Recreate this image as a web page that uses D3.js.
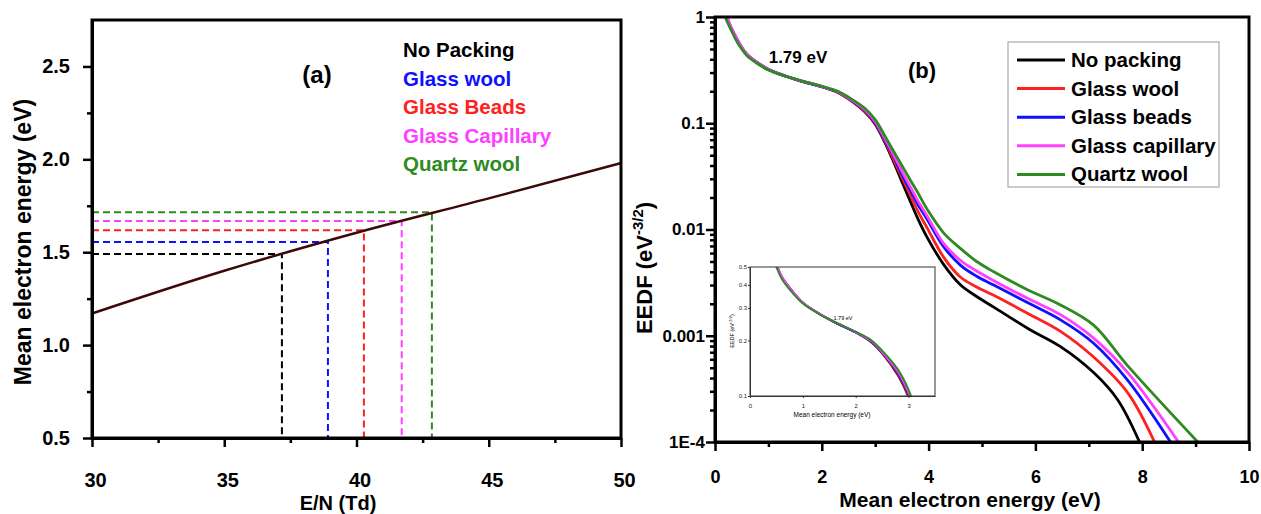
<!DOCTYPE html>
<html>
<head>
<meta charset="utf-8">
<script src="https://cdnjs.cloudflare.com/ajax/libs/d3/7.8.5/d3.min.js"></script>
<style>
body { margin: 0; background: #fff; }
svg { display: block; }
text { font-family: 'Liberation Sans', Arial, sans-serif; font-weight: bold; }
</style>
</head>
<body>
<svg id="chart"></svg>
<script>

// ---- panel (a) data ----
var fieldValues = [30, 35, 40, 45, 50];              // E/N (Td)
var meanEnergy = [1.17, 1.40, 1.605, 1.79, 1.98];    // eV
var packingA = ["No Packing", "Glass wool", "Glass Beads", "Glass Capillary", "Quartz wool"];
var readField = [37.18, 38.92, 40.28, 41.71, 42.85];
var readEnergy = [1.49, 1.555, 1.618, 1.668, 1.715];
var xTicksA = [30, 35, 40, 45, 50];
var yTicksA = [0.5, 1.0, 1.5, 2.0, 2.5];

// ---- panel (b) data: [energy (eV), EEDF] ----
var packingB = ["No packing", "Glass wool", "Glass beads", "Glass capillary", "Quartz wool"];
var eedfNoPacking = [[0.12,1.30],[0.20,1.0],[0.30,0.78],[0.40,0.62],[0.50,0.51],[0.60,0.44],[0.80,0.37],[1.0,0.32],[1.3,0.28],[1.6,0.251],[2.0,0.221],[2.3,0.195],[2.5,0.170],[2.8,0.129],[3.0,0.098],[3.2,0.063],[3.35,0.0427],[3.5,0.0282],[3.67,0.0178],[3.8,0.0126],[3.98,0.0083],[4.28,0.0047],[4.6,0.0030],[4.9,0.00234],[5.22,0.00186],[5.86,0.00117],[6.47,0.00079],[7.09,0.00045],[7.54,0.00025],[7.95,0.0001]];
var eedfGlassWool = [[0.13,1.30],[0.21,1.0],[0.30,0.79],[0.40,0.63],[0.50,0.515],[0.60,0.442],[0.80,0.37],[1.0,0.32],[1.3,0.28],[1.6,0.251],[2.0,0.221],[2.3,0.196],[2.5,0.171],[2.8,0.131],[3.0,0.100],[3.2,0.065],[3.35,0.045],[3.5,0.031],[3.67,0.0205],[3.8,0.0148],[3.98,0.0102],[4.28,0.0055],[4.6,0.00355],[4.9,0.00288],[5.22,0.0024],[5.86,0.00162],[6.47,0.0011],[7.09,0.00063],[7.73,0.00029],[8.23,0.0001]];
var eedfGlassBeads = [[0.14,1.30],[0.22,1.0],[0.30,0.795],[0.40,0.635],[0.50,0.518],[0.60,0.444],[0.80,0.37],[1.0,0.32],[1.3,0.28],[1.6,0.251],[2.0,0.221],[2.3,0.197],[2.5,0.172],[2.8,0.133],[3.0,0.102],[3.2,0.067],[3.35,0.0484],[3.5,0.0331],[3.67,0.0229],[3.8,0.0172],[3.98,0.0123],[4.28,0.0069],[4.6,0.0046],[4.9,0.00363],[5.22,0.0030],[5.86,0.00204],[6.47,0.00141],[7.09,0.00085],[7.73,0.00038],[8.53,0.0001]];
var eedfGlassCapillary = [[0.15,1.30],[0.23,1.0],[0.30,0.80],[0.40,0.64],[0.50,0.52],[0.60,0.446],[0.80,0.371],[1.0,0.321],[1.3,0.28],[1.6,0.252],[2.0,0.222],[2.3,0.198],[2.5,0.173],[2.8,0.135],[3.0,0.104],[3.2,0.069],[3.35,0.050],[3.5,0.0355],[3.67,0.0245],[3.8,0.0186],[3.98,0.0132],[4.28,0.0074],[4.6,0.0051],[4.9,0.00407],[5.22,0.0033],[5.86,0.00224],[6.47,0.00158],[7.09,0.00095],[7.73,0.00045],[8.68,0.0001]];
var eedfQuartzWool = [[0.11,1.30],[0.19,1.0],[0.30,0.76],[0.40,0.60],[0.50,0.50],[0.60,0.432],[0.80,0.363],[1.0,0.317],[1.3,0.279],[1.6,0.252],[2.0,0.223],[2.3,0.200],[2.5,0.176],[2.8,0.139],[3.0,0.108],[3.2,0.073],[3.35,0.054],[3.5,0.040],[3.67,0.0285],[3.8,0.0221],[3.98,0.0153],[4.28,0.0093],[4.6,0.0066],[4.9,0.0050],[5.22,0.0040],[5.86,0.0027],[6.47,0.00195],[7.09,0.00126],[7.73,0.00052],[9.04,0.0001]];
var xTicksB = [0, 2, 4, 6, 8, 10];
var yTicksB = [1e-4, 1e-3, 1e-2, 1e-1, 1];
var yTickLabelsB = ["1E-4", "0.001", "0.01", "0.1", "1"];
var xTicksInset = [0, 1, 2, 3];
var yTicksInset = [0.1, 0.2, 0.3, 0.4, 0.5];

var colorsA = ["#000000", "#1010ff", "#ff2020", "#ff40ff", "#2e8b22"];
var colorsB = ["#000000", "#ff2020", "#1010ff", "#ff40ff", "#2e8b22"];

var width = 1261, height = 514;
var svg = d3.select("#chart").attr("width", width).attr("height", height);

// common axis styling
function styleAxis(g, fontSize) {
	g.attr("font-family", null).attr("font-size", null);
	g.selectAll("text").style("font-size", fontSize + "px").attr("fill", "#000");
	g.selectAll(".tick line").attr("stroke", "#000").attr("stroke-width", 2.5);
	g.select(".domain").attr("stroke", "#000").attr("stroke-width", 3);
}
function minorTicks(g, width) {
	g.attr("font-family", null).attr("font-size", null);
	g.select(".domain").remove();
	g.selectAll(".tick line").attr("stroke", "#000").attr("stroke-width", width);
}

//
// Panel (a)
//
var xA = d3.scaleLinear().domain([30, 50]).range([92, 621]);
var yA = d3.scaleLinear().domain([0.5, 2.75]).range([438, 20]);

var gA = svg.append("g");

// dashed read-off lines
readField.forEach(function (f, i) {
	gA.append("path")
		.attr("d", "M" + xA(30) + "," + yA(readEnergy[i]) + "L" + xA(f) + "," + yA(readEnergy[i]) + "L" + xA(f) + "," + yA(0.5))
		.attr("fill", "none")
		.attr("stroke", colorsA[i])
		.attr("stroke-width", 2)
		.attr("stroke-dasharray", "7,4");
});

var lineA = d3.line().x(function (d, i) { return xA(fieldValues[i]); }).y(function (d) { return yA(d); }).curve(d3.curveMonotoneX);
gA.append("path").datum(meanEnergy)
	.attr("d", lineA)
	.attr("fill", "none")
	.attr("stroke", "#3c0808")
	.attr("stroke-width", 2.5);

// minor ticks
gA.append("g").attr("transform", "translate(0,438)")
	.call(d3.axisBottom(xA).tickValues([32.5, 37.5, 42.5, 47.5]).tickSize(5).tickFormat(""))
	.call(minorTicks, 2.5);
gA.append("g").attr("transform", "translate(92,0)")
	.call(d3.axisLeft(yA).tickValues([0.75, 1.25, 1.75, 2.25]).tickSize(5).tickFormat(""))
	.call(minorTicks, 2.5);

// frame
gA.append("rect").attr("x", 92).attr("y", 20).attr("width", 621 - 92).attr("height", 438 - 20)
	.attr("fill", "none").attr("stroke", "#000").attr("stroke-width", 3);

gA.append("g").attr("transform", "translate(0,438)")
	.call(d3.axisBottom(xA).tickValues(xTicksA).tickSize(9).tickSizeOuter(0).tickPadding(26).tickFormat(d3.format("d")))
	.call(styleAxis, 20)
	.selectAll("text").attr("dx", 3);
gA.append("g").attr("transform", "translate(92,0)")
	.call(d3.axisLeft(yA).tickValues(yTicksA).tickSize(9).tickSizeOuter(0).tickPadding(13).tickFormat(d3.format(".1f")))
	.call(styleAxis, 20);

gA.append("text").attr("x", 338).attr("y", 510).attr("text-anchor", "middle")
	.style("font-size", "20px").text("E/N (Td)");
gA.append("text").attr("transform", "translate(31,242) rotate(-90)").attr("text-anchor", "middle")
	.style("font-size", "23px").text("Mean electron energy (eV)");
gA.append("text").attr("x", 317).attr("y", 83).attr("text-anchor", "middle")
	.style("font-size", "24px").text("(a)");

gA.selectAll("text.legend").data(packingA).enter().append("text")
	.attr("class", "legend")
	.attr("x", 403)
	.attr("y", function (d, i) { return 57 + i * 28.5; })
	.attr("fill", function (d, i) { return colorsA[i]; })
	.style("font-size", "20.5px")
	.text(function (d) { return d; });

//
// Panel (b)
//
var xB = d3.scaleLinear().domain([0, 10]).range([715, 1249]);
var yB = d3.scaleLog().domain([1e-4, 1]).range([442, 17]);
var seriesB = [eedfNoPacking, eedfGlassWool, eedfGlassBeads, eedfGlassCapillary, eedfQuartzWool];

var gB = svg.append("g");

svg.append("defs").append("clipPath").attr("id", "clipB")
	.append("rect").attr("x", 715).attr("y", 17).attr("width", 1249 - 715).attr("height", 442 - 17);

var lineB = d3.line().x(function (d) { return xB(d[0]); }).y(function (d) { return yB(d[1]); }).curve(d3.curveCatmullRom.alpha(0.5));
gB.append("g").attr("clip-path", "url(#clipB)")
	.selectAll("path").data(seriesB).enter().append("path")
	.attr("d", lineB)
	.attr("fill", "none")
	.attr("stroke", function (d, i) { return colorsB[i]; })
	.attr("stroke-width", 2.8);

// log minor ticks
var minorB = [];
for (var p = -4; p < 0; p++) {
	for (var m = 2; m <= 9; m++) { minorB.push(m * Math.pow(10, p)); }
}
gB.append("g").attr("transform", "translate(715,0)")
	.call(d3.axisLeft(yB).tickValues(minorB).tickSize(5).tickFormat(""))
	.call(minorTicks, 2.5);
gB.append("g").attr("transform", "translate(0,442)")
	.call(d3.axisBottom(xB).tickValues([1, 3, 5, 7, 9]).tickSize(5).tickFormat(""))
	.call(minorTicks, 2.5);

gB.append("rect").attr("x", 715).attr("y", 17).attr("width", 1249 - 715).attr("height", 442 - 17)
	.attr("fill", "none").attr("stroke", "#000").attr("stroke-width", 3);

gB.append("g").attr("transform", "translate(0,442)")
	.call(d3.axisBottom(xB).tickValues(xTicksB).tickSize(9).tickSizeOuter(0).tickPadding(19).tickFormat(d3.format("d")))
	.call(styleAxis, 18);
gB.append("g").attr("transform", "translate(715,0)")
	.call(d3.axisLeft(yB).tickValues(yTicksB).tickSize(9).tickSizeOuter(0).tickPadding(1)
		.tickFormat(function (d, i) { return yTickLabelsB[i]; }))
	.call(styleAxis, 17);

gB.append("text").attr("x", 970).attr("y", 507).attr("text-anchor", "middle")
	.style("font-size", "21px").text("Mean electron energy (eV)");
var yLabB = gB.append("text").attr("transform", "translate(652,268) rotate(-90)").attr("text-anchor", "middle")
	.style("font-size", "22px");
yLabB.append("tspan").text("EEDF (eV");
yLabB.append("tspan").attr("dy", -9).style("font-size", "15px").text("-3/2");
yLabB.append("tspan").attr("dy", 9).text(")");

gB.append("text").attr("x", 922).attr("y", 78).attr("text-anchor", "middle")
	.style("font-size", "22px").text("(b)");
gB.append("text").attr("x", 798).attr("y", 63).attr("text-anchor", "middle")
	.style("font-size", "17px").text("1.79 eV");

// legend
var legB = gB.append("g");
legB.append("rect").attr("x", 1008).attr("y", 42).attr("width", 211).attr("height", 145)
	.attr("fill", "#fff").attr("stroke", "#999").attr("stroke-width", 1);
packingB.forEach(function (name, i) {
	var cy = 60 + i * 28.6;
	legB.append("line").attr("x1", 1017).attr("x2", 1065).attr("y1", cy).attr("y2", cy)
		.attr("stroke", colorsB[i]).attr("stroke-width", 3);
	legB.append("text").attr("x", 1071).attr("y", cy + 7).style("font-size", "20.5px").text(name);
});

//
// Inset
//
var xI = d3.scaleLinear().domain([0, 3.5]).range([750, 935]);
var yI = d3.scaleLog().domain([0.1, 0.5]).range([396, 267]);
var gI = svg.append("g");

svg.select("defs").append("clipPath").attr("id", "clipI")
	.append("rect").attr("x", 750).attr("y", 267).attr("width", 185).attr("height", 129);

gI.append("rect").attr("x", 750).attr("y", 267).attr("width", 185).attr("height", 129)
	.attr("fill", "#fff");

var lineI = d3.line().x(function (d) { return xI(d[0]); }).y(function (d) { return yI(d[1]); }).curve(d3.curveCatmullRom.alpha(0.5));
gI.append("g").attr("clip-path", "url(#clipI)")
	.selectAll("path").data(seriesB).enter().append("path")
	.attr("d", lineI)
	.attr("fill", "none")
	.attr("stroke", function (d, i) { return colorsB[i]; })
	.attr("stroke-width", 2);

gI.append("rect").attr("x", 750).attr("y", 267).attr("width", 185).attr("height", 129)
	.attr("fill", "none").attr("stroke", "#333").attr("stroke-width", 1);

function styleInset(g) {
	g.attr("font-family", null).attr("font-size", null);
	g.selectAll("text").style("font-size", "6px").style("font-weight", "normal").attr("fill", "#222");
	g.selectAll("line").attr("stroke", "#333");
	g.select(".domain").attr("stroke", "#333");
}
gI.append("g").attr("transform", "translate(0,396)")
	.call(d3.axisBottom(xI).tickValues(xTicksInset).tickSize(2).tickSizeOuter(0).tickPadding(6).tickFormat(d3.format("d")))
	.call(styleInset);
gI.append("g").attr("transform", "translate(750,0)")
	.call(d3.axisLeft(yI).tickValues(yTicksInset).tickSize(2).tickSizeOuter(0).tickPadding(1).tickFormat(d3.format(".1f")))
	.call(styleInset);

gI.append("text").attr("x", 832).attr("y", 417).attr("text-anchor", "middle")
	.style("font-size", "6.5px").style("font-weight", "normal").text("Mean electron energy (eV)");
var yLabI = gI.append("text").attr("transform", "translate(734,331) rotate(-90)").attr("text-anchor", "middle")
	.style("font-size", "5.5px").style("font-weight", "normal");
yLabI.append("tspan").text("EEDF (eV");
yLabI.append("tspan").attr("dy", -2).style("font-size", "4px").text("-3/2");
yLabI.append("tspan").attr("dy", 2).text(")");
gI.append("text").attr("x", 843).attr("y", 320).attr("text-anchor", "middle")
	.style("font-size", "5.5px").style("font-weight", "normal").text("1.79 eV");

</script>
</body>
</html>
